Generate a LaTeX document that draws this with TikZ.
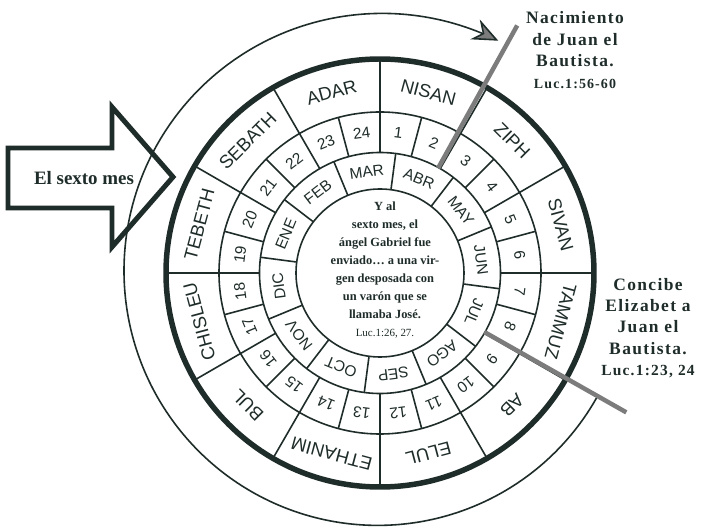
\documentclass[tikz,border=0pt]{standalone}
\usepackage{fontspec}
\newfontfamily\ringfont{Liberation Sans}
\newfontfamily\notefont[LetterSpace=8]{Liberation Serif}
\newfontfamily\textofont{Liberation Serif}
\usetikzlibrary{arrows.meta}
\definecolor{ink}{HTML}{1F2D2A}
\definecolor{hitogris}{HTML}{7C7C7C}
\tikzset{
  ring/.style  = {draw=ink, line width=1.6pt},
  rim/.style   = {draw=ink, line width=5.5pt},
  heb/.style   = {font=\ringfont\fontsize{18.5}{18.5}\selectfont, text=ink, inner sep=0pt},
  dia/.style   = {font=\ringfont\fontsize{15.5}{15.5}\selectfont, text=ink, inner sep=0pt},
  mes/.style   = {font=\ringfont\fontsize{15.5}{15.5}\selectfont, text=ink, inner sep=0pt},
  note/.style  = {font=\notefont\bfseries\fontsize{17.5}{21.5}\selectfont, text=ink, align=center, inner sep=0pt},
  verso/.style = {font=\textofont\bfseries\fontsize{12.5}{18}\selectfont, text=ink, align=center, inner sep=0pt},
  hito/.style  = {draw=hitogris, line width=4.5pt},
  giro/.style  = {draw=ink, line width=1.6pt, -{Stealth[length=26pt, width=22pt, fill=hitogris]}},
  flecha/.style = {draw=ink, line width=5pt, line join=miter},
}

\begin{document}
\begin{tikzpicture}[x=1bp, y=1bp]
  \fill[white] (-380,-259) rectangle (322,273);
  \useasboundingbox (-380,-259) rectangle (322,273);

  \draw[giro] plot[domain=-30:-297, samples=140, smooth] (\x:{250+(-30-\x)*0.04});

  \draw[ring] (0,0) circle[radius=161];
  \draw[ring] (0,0) circle[radius=120.5];
  \draw[ring] (0,0) circle[radius=84];
  \foreach \a in {0,30,...,330} \draw[ring] (\a:161) -- (\a:214);
  \foreach \a in {0,15,...,345} \draw[ring] (\a:120.5) -- (\a:161);
  \foreach \a in {22.5,52.5,...,352.5} \draw[ring] (\a:84) -- (\a:120.5);
  \draw[rim] (0,0) circle[radius=214];

  \foreach \n [count=\i, evaluate=\i as \a using 105-30*\i] in
    {NISAN,ZIPH,SIVAN,TAMMUZ,AB,ELUL,ETHANIM,BUL,CHISLEU,TEBETH,SEBATH,ADAR}
    \node[heb, rotate=\a-90] (heb-\i) at (\a:187) {\n};
  \foreach \i [evaluate=\i as \a using 97.5-15*\i] in {1,...,24}
    \node[dia, rotate=\a-90] (dia-\i) at (\a:141) {\i};
  \foreach \n [count=\i, evaluate=\i as \a using 187.5-30*\i] in
    {ENE,FEB,MAR,ABR,MAY,JUN,JUL,AGO,SEP,OCT,NOV,DIC}
    \node[mes, rotate=\a-90] (mes-\i) at (\a:102) {\n};

  \node[verso] (angel) at (5,3) {Y al\\sexto mes, el\\ángel Gabriel fue\\enviado\ldots\ a una vir-\\gen desposada con\\un varón que se\\llamaba José.\\{\mdseries\fontsize{11}{18}\selectfont Luc.1:26, 27.}};

  \coordinate (naci-a) at (61:120);
  \coordinate (naci-b) at (61:283);
  \coordinate (conc-a) at (-29.5:120);
  \coordinate (conc-b) at (-29.5:283);
  \draw[hito] (naci-a) -- (naci-b);
  \draw[hito] (conc-a) -- (conc-b);

  \draw[flecha] (-372,125) -- (-268,125) -- (-268,166) -- (-207,96)
    -- (-268,26) -- (-268,65) -- (-372,65) -- cycle;
  \node[font=\textofont\bfseries\fontsize{19}{19}\selectfont, text=ink, inner sep=0pt] (sexto) at (-296,95) {El sexto mes};

  \node[note] (naci) at (195,223) {Nacimiento\\de Juan el\\Bautista.\\{\fontsize{14}{20}\selectfont Luc.1:56-60}};
  \node[note] (conc) at (268,-55) {Concibe\\Elizabet a\\Juan el\\Bautista.\\{\fontsize{15.5}{21.5}\selectfont Luc.1:23, 24}};
\end{tikzpicture}
\end{document}
